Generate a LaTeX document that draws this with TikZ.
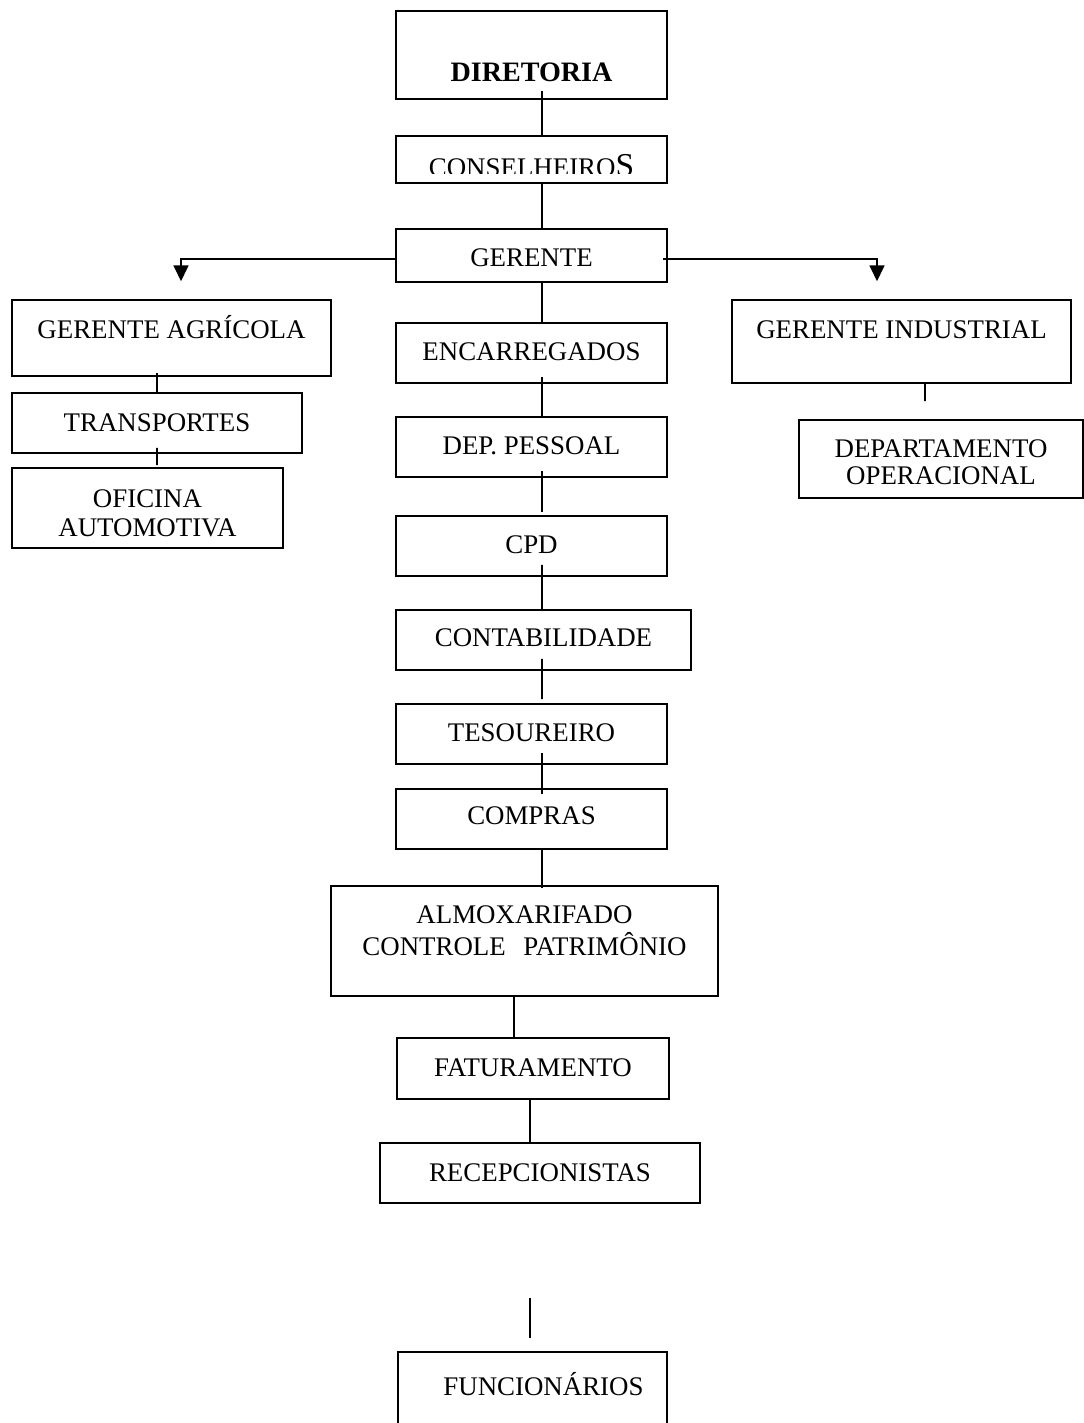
\documentclass[tikz,border=0pt]{standalone}
\usepackage{fontspec}
\setmainfont{Liberation Serif}
\usetikzlibrary{arrows.meta, calc}

\begin{document}
\begin{tikzpicture}[x=0.02cm, y=-0.02cm,
    box/.style={rectangle, draw=black, line width=0.9pt, inner sep=0pt, anchor=base, font=\fontsize{15.3}{18}\selectfont},
    link/.style={line width=0.9pt},
    arrow/.style={link, -{Triangle[width=8.5pt, length=9pt]}}
]
\useasboundingbox (0,0) rectangle (1083,1423);

% top of the chart
\node[box, font=\fontsize{16}{19}\selectfont\bfseries, minimum width=5.42cm, text height=1.40cm, text depth=0.36cm] (dir) at (531.5,81) {DIRETORIA};
\node[box, minimum width=5.42cm, text height=0.80cm, text depth=0.14cm] (cons) at (531.5,176) {};
\begin{scope}
  \clip (cons.north west) rectangle ([yshift=0.2cm]cons.south east);
  \node[anchor=base, inner sep=0pt, font=\fontsize{15.3}{18}\selectfont] (constext) at (cons.base) {CONSELHEIRO{\fontsize{19}{20}\selectfont S}};
\end{scope}
\node[box, minimum width=5.42cm, text height=0.74cm, text depth=0.32cm] (ger) at (531.5,266) {GERENTE};

% left branch
\node[box, minimum width=6.38cm, text height=0.76cm, text depth=0.76cm] (agr) at (171.5,338) {GERENTE AGRÍCOLA};
\node[box, minimum width=5.80cm, text height=0.76cm, text depth=0.44cm] (transp) at (157,431) {TRANSPORTES};
\node[box, font=\fontsize{15.3}{16.6}\selectfont, minimum width=5.42cm, text height=0.78cm, text depth=0.82cm] (ofic) at (147.5,507) {\begin{tabular}[t]{@{}c@{}}OFICINA\\AUTOMOTIVA\end{tabular}};

% right branch
\node[box, minimum width=6.78cm, text height=0.76cm, text depth=0.90cm] (ind) at (901.5,338) {GERENTE INDUSTRIAL};
\node[box, font=\fontsize{15.3}{15.9}\selectfont, minimum width=5.68cm, text height=0.74cm, text depth=0.82cm] (depop) at (941,457) {\begin{tabular}[t]{@{}c@{}}DEPARTAMENTO\\OPERACIONAL\end{tabular}};

% middle column
\node[box, minimum width=5.42cm, text height=0.74cm, text depth=0.46cm] (enc) at (531.5,360) {ENCARREGADOS};
\node[box, minimum width=5.42cm, text height=0.74cm, text depth=0.46cm] (pess) at (531.5,454) {DEP. PESSOAL};
\node[box, minimum width=5.42cm, text height=0.74cm, text depth=0.46cm] (cpd) at (531.5,553) {CPD};
\node[box, minimum width=5.90cm, text height=0.72cm, text depth=0.48cm] (cont) at (543.5,646) {CONTABILIDADE};
\node[box, minimum width=5.42cm, text height=0.74cm, text depth=0.46cm] (tes) at (531.5,741) {TESOUREIRO};
\node[box, minimum width=5.42cm, text height=0.70cm, text depth=0.50cm] (comp) at (531.5,824) {COMPRAS};
\node[box, font=\fontsize{15.3}{18.1}\selectfont, minimum width=7.74cm, text height=0.74cm, text depth=1.46cm] (almox) at (524.5,923) {\begin{tabular}[t]{@{}c@{}}ALMOXARIFADO\\CONTROLE\hspace{0.65em}PATRIMÔNIO\end{tabular}};
\node[box, minimum width=5.44cm, text height=0.76cm, text depth=0.46cm] (fat) at (533,1076) {FATURAMENTO};
\node[box, minimum width=6.40cm, text height=0.76cm, text depth=0.44cm] (rec) at (540,1181) {RECEPCIONISTAS};
\node[box, minimum width=5.38cm, text height=0.86cm, text depth=0.90cm] (func) at (532.5,1395) {\hspace*{0.44cm}FUNCIONÁRIOS};

% connectors
\draw[link] ($(dir.south)+(10.5,-9)$) -- ($(cons.north)+(10.5,0)$);
\draw[link] ($(cons.south)+(10.5,0)$) -- ($(ger.north)+(10.5,0)$);
\draw[link] ($(ger.south)+(10.5,0)$) -- ($(enc.north)+(10.5,0)$);
\draw[link] ($(enc.south)+(10.5,-7)$) -- ($(pess.north)+(10.5,0)$);
\draw[link] ($(pess.south)+(10.5,-7)$) -- ($(cpd.north)+(10.5,-3)$);
\draw[link] ($(cpd.south)+(10.5,-12)$) -- ($(cont.north)+(-1.5,0)$);
\draw[link] ($(cont.south)+(-1.5,-12)$) -- ($(tes.north)+(10.5,-4)$);
\draw[link] ($(tes.south)+(10.5,-12)$) -- ($(comp.north)+(10.5,6)$);
\draw[link] ($(comp.south)+(10.5,0)$) -- ($(almox.north)+(17.5,3)$);
\draw[link] ($(almox.south)+(-10.5,0)$) -- ($(fat.north)+(-19,0)$);
\draw[link] ($(fat.south)+(-3,0)$) -- ($(rec.north)+(-10,0)$);
\draw[link] ($(rec.south)+(-10,94)$) -- ($(func.north)+(-2.5,-13)$);

\draw[link] ($(agr.south)+(-14.5,-4)$) -- (transp.north);
\draw[link] ($(transp.south)+(0,-6)$) -- ($(ofic.north)+(9.5,-2)$);
\draw[link] ($(ind.south)+(23.5,0)$) -- ($(depop.north)+(-16,-18)$);

\draw[arrow] ($(ger.west)+(0,3.5)$) -| ($(agr.north)+(9.5,-18)$);
\draw[arrow] ($(ger.east)+(-5,3.5)$) -| ($(ind.north)+(-24.5,-18)$);
\end{tikzpicture}
\end{document}
